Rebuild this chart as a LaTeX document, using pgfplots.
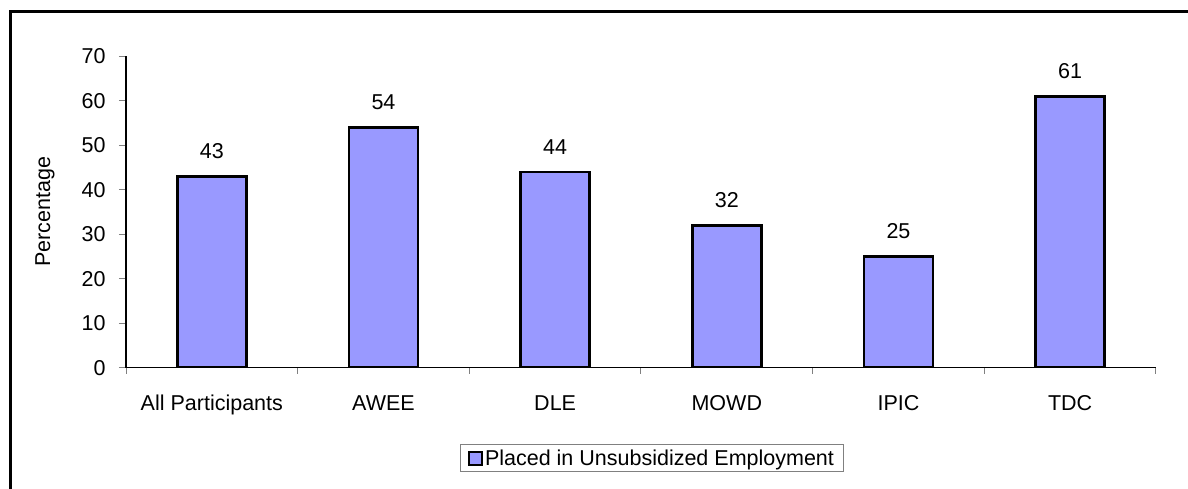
\documentclass[border=0pt]{standalone}
\usepackage{pgfplots}
\pgfplotsset{compat=1.18}
\usepackage{fontspec}
\setmainfont{Liberation Sans}
\newcommand\fs{\fontsize{21.5bp}{25bp}\selectfont}
\definecolor{barfill}{HTML}{9999FF}
\begin{document}
\begin{tikzpicture}
\useasboundingbox (0,0) rectangle (1188bp,489bp);
\draw[line width=3bp] (10bp,-5bp) -- (10bp,477.5bp) -- (1195bp,477.5bp);
\begin{axis}[
  at={(126bp,121.3bp)}, anchor=south west,
  scale only axis, width=1030bp, height=311.5bp,
  xmin=0, xmax=6, ymin=0, ymax=70,
  axis x line*=bottom, axis y line*=left,
  axis line style={line width=1.2bp, black, -},
  ybar, bar width=69bp,
  xtick={0.5,1.5,2.5,3.5,4.5,5.5},
  xticklabels={All Participants,AWEE,DLE,MOWD,IPIC,TDC},
  minor xtick={0,1,2,3,4,5,6},
  ytick={0,10,...,70},
  tick align=outside,
  major x tick style={draw=none},
  minor tick length=6bp,
  minor x tick style={gray, line width=1bp},
  major tick length=7bp,
  y tick style={gray, line width=1bp},
  tick label style={font=\fs, text=black},
  /pgf/number format/assume math mode=true,
  xticklabel style={yshift=-17bp},
  yticklabel style={xshift=-10bp},
  ylabel={Percentage},
  ylabel style={font=\fs, at={(axis description cs:-0.0786,0.5)}, anchor=center},
  nodes near coords,
  every node near coord/.append style={font=\fs, text=black, yshift=13bp},
  legend style={at={(0.5107,-0.29)}, anchor=center, draw=gray, line width=1bp,
    font=\fs, inner xsep=8bp, inner ysep=3bp},
  legend image code/.code={\draw[#1, line width=2bp] (0bp,-6.5bp) rectangle (13bp,6.5bp);},
]
\addplot[fill=barfill, draw=black, line width=2.6bp] coordinates {(0.5,43) (1.5,54) (2.5,44) (3.5,32) (4.5,25) (5.5,61)};
\addlegendentry{Placed in Unsubsidized Employment}
\end{axis}
\end{tikzpicture}
\end{document}
